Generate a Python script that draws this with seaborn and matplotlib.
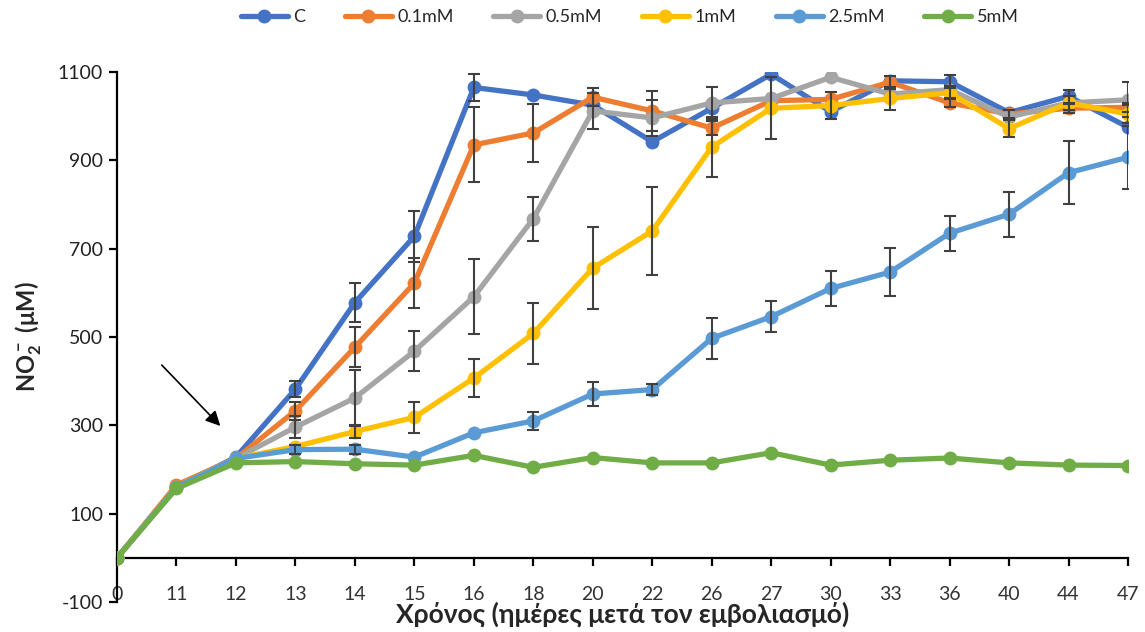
import numpy as np
import pandas as pd
import matplotlib
matplotlib.use("Agg")
import matplotlib.pyplot as plt
import seaborn as sns

days = [0, 11, 12, 13, 14, 15, 16, 18, 20, 22, 26, 27, 30, 33, 36, 40, 44, 47]
series_names = ["C", "0.1mM", "0.5mM", "1mM", "2.5mM", "5mM"]

c_vals = [0, 160, 228, 382, 578, 728, 1065, 1048, 1025, 942, 1018, 1095, 1010, 1080, 1078, 1008, 1045, 975]
c_err = [0, 0, 0, 18, 45, 58, 30, 0, 0, 0, 0, 0, 0, 0, 15, 0, 15, 0]

m01_vals = [0, 165, 225, 333, 477, 622, 935, 962, 1043, 1012, 973, 1035, 1038, 1077, 1030, 1005, 1018, 1020]
m01_err = [0, 0, 0, 20, 45, 57, 85, 65, 20, 45, 15, 0, 0, 15, 10, 10, 10, 10]

m05_vals = [0, 160, 225, 296, 362, 468, 591, 768, 1012, 996, 1030, 1040, 1088, 1050, 1060, 998, 1030, 1037]
m05_err = [0, 0, 0, 25, 63, 45, 85, 50, 40, 40, 37, 0, 0, 0, 0, 0, 0, 40]

m1_vals = [0, 160, 225, 252, 286, 318, 407, 508, 656, 740, 930, 1018, 1024, 1040, 1053, 972, 1030, 1005]
m1_err = [0, 0, 0, 0, 14, 35, 43, 70, 93, 100, 68, 70, 30, 25, 15, 20, 15, 20]

m25_vals = [0, 160, 225, 245, 246, 228, 283, 310, 371, 381, 497, 546, 610, 647, 735, 778, 872, 907]
m25_err = [0, 0, 0, 10, 10, 0, 0, 20, 27, 12, 47, 35, 39, 54, 40, 51, 72, 71]

m5_vals = [0, 157, 215, 218, 213, 210, 232, 205, 227, 215, 215, 238, 210, 221, 226, 215, 210, 209]
m5_err = [0] * 18

colors = ["#4472C4", "#ED7D31", "#A5A5A5", "#FFC000", "#5B9BD5", "#70AD47"]

all_vals = [c_vals, m01_vals, m05_vals, m1_vals, m25_vals, m5_vals]
all_errs = [c_err, m01_err, m05_err, m1_err, m25_err, m5_err]

pos = np.arange(len(days))
frames = []
for name, vals in zip(series_names, all_vals):
    frames.append(pd.DataFrame({"pos": pos, "value": vals, "series": name}))
df = pd.concat(frames, ignore_index=True)

sns.set_style("white")
plt.rcParams["font.family"] = ["Lato", "DejaVu Sans"]
plt.rcParams["mathtext.fontset"] = "custom"
plt.rcParams["mathtext.rm"] = "Lato"
plt.rcParams["mathtext.bf"] = "Lato:bold"
plt.rcParams["axes.unicode_minus"] = False

fig = plt.figure(figsize=(11.45, 6.32), dpi=100)
ax = fig.add_axes([117 / 1145, 1 - 602 / 632, (1128 - 117) / 1145, (602 - 72) / 632])

sns.lineplot(data=df, x="pos", y="value", hue="series", hue_order=series_names,
             palette=colors, marker="o", markersize=10, linewidth=3.8,
             markeredgewidth=0, errorbar=None, ax=ax, zorder=3)

for vals, errs in zip(all_vals, all_errs):
    v = np.array(vals, dtype=float)
    e = np.array(errs, dtype=float)
    m = e > 0
    ax.errorbar(pos[m], v[m], yerr=e[m], fmt="none", ecolor="#404040",
                elinewidth=1.5, capsize=4, capthick=1.5, zorder=4)

ax.set_xlim(0, len(days) - 1)
ax.set_ylim(-100, 1100)
ax.set_yticks(np.arange(-100, 1101, 200))
ax.set_xticks(pos)
ax.set_xticklabels([str(d) for d in days])

for s in ["top", "right"]:
    ax.spines[s].set_visible(False)
ax.spines["bottom"].set_position(("data", 0))
ax.spines["bottom"].set_linewidth(1.6)
ax.spines["left"].set_linewidth(1.6)
ax.spines["bottom"].set_color("black")
ax.spines["left"].set_color("black")

ax.tick_params(axis="x", direction="out", length=6, width=1.6, pad=14, labelsize=14, colors="black", labelcolor="#333333")
ax.tick_params(axis="y", direction="out", length=6, width=1.6, pad=4, labelsize=14, colors="black", labelcolor="#222222")
ax.xaxis.set_ticks_position("bottom")
ax.yaxis.set_ticks_position("left")

ax.set_xlabel("Χρόνος (ημέρες μετά τον εμβολιασμό)", fontsize=19, fontweight="bold", labelpad=0)
ax.xaxis.set_label_coords(0.5, 0.0)
ax.xaxis.label.set_verticalalignment("top")
ax.set_ylabel(r"$\mathbf{NO_2^-}$ (μM)", fontsize=17, fontweight="bold")
ax.yaxis.set_label_coords(-0.072, 0.5)

ax.annotate("", xy=(1.77, 294), xytext=(0.72, 441),
            arrowprops=dict(arrowstyle="-|>", color="black", lw=1.2, mutation_scale=22))

sns.move_legend(ax, "center", bbox_to_anchor=(0.507, 1.104), ncol=6, frameon=False,
                title=None, fontsize=13, handlelength=2.6, columnspacing=2.2, handletextpad=0.3)

fig.savefig("out.png", dpi=100)
